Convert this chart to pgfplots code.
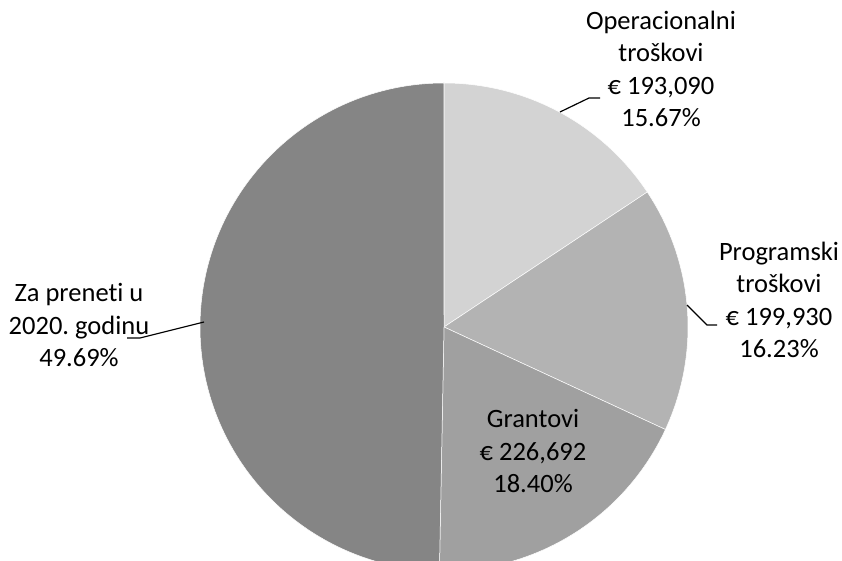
\documentclass[border=0pt]{standalone}
\usepackage{pgfplots}
\pgfplotsset{compat=1.18}
\usepackage{fontspec}
\setmainfont[Ligatures={NoCommon}]{Carlito}
\frenchspacing
\definecolor{cOp}{HTML}{D3D3D3}
\definecolor{cPr}{HTML}{B3B3B3}
\definecolor{cGr}{HTML}{A0A0A0}
\definecolor{cZa}{HTML}{858585}
% shares in percent
\def\pOp{15.67}
\def\pPr{16.23}
\def\pGr{18.40}
\def\pZa{49.69}
\begin{document}
\begin{tikzpicture}
\begin{axis}[
  scale only axis, width=842bp, height=561bp,
  xmin=0, xmax=842, ymin=0, ymax=561,
  hide axis, clip=true,
  font=\fontsize{26.5bp}{32.5bp}\selectfont,
]
\pgfmathsetmacro{\aA}{90}
\pgfmathsetmacro{\aB}{\aA-3.6*\pOp}
\pgfmathsetmacro{\aC}{\aB-3.6*\pPr}
\pgfmathsetmacro{\aD}{\aC-3.6*\pGr}
\pgfmathsetmacro{\aE}{\aD-3.6*\pZa}
\fill[cOp, draw=white, line width=0.5bp] (axis cs:444,234) -- ++(\aA:244bp) arc[start angle=\aA, end angle=\aB, radius=244bp] -- cycle;
\fill[cPr, draw=white, line width=0.5bp] (axis cs:444,234) -- ++(\aB:244bp) arc[start angle=\aB, end angle=\aC, radius=244bp] -- cycle;
\fill[cGr, draw=white, line width=0.5bp] (axis cs:444,234) -- ++(\aC:244bp) arc[start angle=\aC, end angle=\aD, radius=244bp] -- cycle;
\fill[cZa, draw=white, line width=0.5bp] (axis cs:444,234) -- ++(\aD:244bp) arc[start angle=\aD, end angle=\aE, radius=244bp] -- cycle;
% leader lines
\draw[black, line width=1.2bp] (axis cs:560,449) -- (axis cs:589,463) -- (axis cs:600,463);
\draw[black, line width=1.2bp] (axis cs:687,256) -- (axis cs:707,236) -- (axis cs:717,236);
\draw[black, line width=1.2bp] (axis cs:127,223) -- (axis cs:140,223) -- (axis cs:204,239);
% labels
\node[align=center, inner sep=0pt] at (axis cs:661,492) {Operacionalni\\troškovi\\€ 193,090\\15.67\%};
\node[align=center, inner sep=0pt] at (axis cs:779,261) {Programski\\troškovi\\€ 199,930\\16.23\%};
\node[align=center, inner sep=0pt] at (axis cs:533,110) {Grantovi\\€ 226,692\\18.40\%};
\node[align=center, inner sep=0pt] at (axis cs:79,236) {Za preneti u\\2020. godinu\\49.69\%};
\end{axis}
\pgfresetboundingbox
\useasboundingbox (0,0) rectangle (842bp,561bp);
\end{tikzpicture}
\end{document}
